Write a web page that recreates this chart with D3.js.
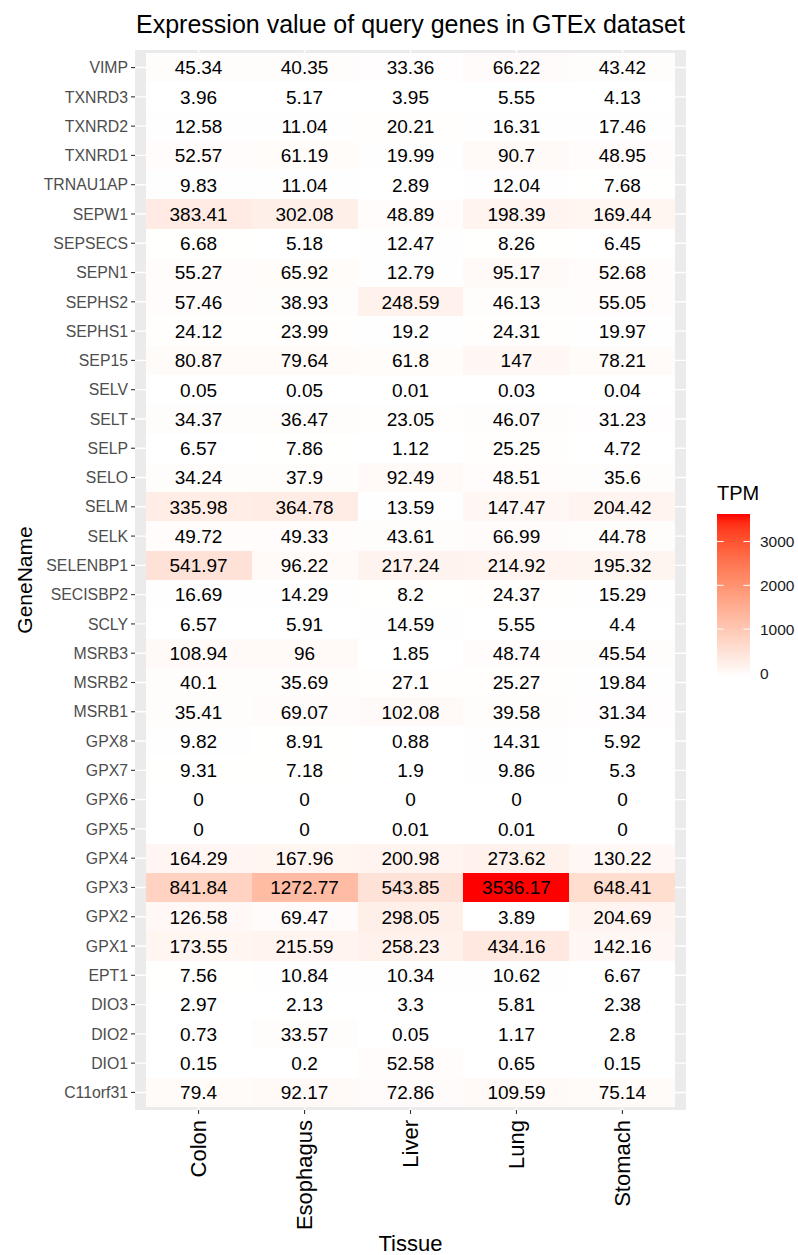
<!DOCTYPE html>
<html>
<head>
<meta charset="utf-8">
<script src="https://cdn.jsdelivr.net/npm/d3@7"></script>
<style>
  body { margin: 0; background: #fff; }
  svg text { font-family: "Liberation Sans", Arial, Helvetica, sans-serif; }
</style>
</head>
<body>
<svg width="798" height="1255"></svg>
<script>
// Genes, top row to bottom row
var genes = ["VIMP", "TXNRD3", "TXNRD2", "TXNRD1", "TRNAU1AP", "SEPW1", "SEPSECS", "SEPN1",
    "SEPHS2", "SEPHS1", "SEP15", "SELV", "SELT", "SELP", "SELO", "SELM", "SELK", "SELENBP1",
    "SECISBP2", "SCLY", "MSRB3", "MSRB2", "MSRB1", "GPX8", "GPX7", "GPX6", "GPX5", "GPX4",
    "GPX3", "GPX2", "GPX1", "EPT1", "DIO3", "DIO2", "DIO1", "C11orf31"];

var tissues = ["Colon", "Esophagus", "Liver", "Lung", "Stomach"];

// TPM per tissue, same order as genes
var colon = [45.34, 3.96, 12.58, 52.57, 9.83, 383.41, 6.68, 55.27, 57.46, 24.12, 80.87, 0.05,
    34.37, 6.57, 34.24, 335.98, 49.72, 541.97, 16.69, 6.57, 108.94, 40.1, 35.41, 9.82, 9.31,
    0, 0, 164.29, 841.84, 126.58, 173.55, 7.56, 2.97, 0.73, 0.15, 79.4];
var esophagus = [40.35, 5.17, 11.04, 61.19, 11.04, 302.08, 5.18, 65.92, 38.93, 23.99, 79.64, 0.05,
    36.47, 7.86, 37.9, 364.78, 49.33, 96.22, 14.29, 5.91, 96, 35.69, 69.07, 8.91, 7.18,
    0, 0, 167.96, 1272.77, 69.47, 215.59, 10.84, 2.13, 33.57, 0.2, 92.17];
var liver = [33.36, 3.95, 20.21, 19.99, 2.89, 48.89, 12.47, 12.79, 248.59, 19.2, 61.8, 0.01,
    23.05, 1.12, 92.49, 13.59, 43.61, 217.24, 8.2, 14.59, 1.85, 27.1, 102.08, 0.88, 1.9,
    0, 0.01, 200.98, 543.85, 298.05, 258.23, 10.34, 3.3, 0.05, 52.58, 72.86];
var lung = [66.22, 5.55, 16.31, 90.7, 12.04, 198.39, 8.26, 95.17, 46.13, 24.31, 147, 0.03,
    46.07, 25.25, 48.51, 147.47, 66.99, 214.92, 24.37, 5.55, 48.74, 25.27, 39.58, 14.31, 9.86,
    0, 0.01, 273.62, 3536.17, 3.89, 434.16, 10.62, 5.81, 1.17, 0.65, 109.59];
var stomach = [43.42, 4.13, 17.46, 48.95, 7.68, 169.44, 6.45, 52.68, 55.05, 19.97, 78.21, 0.04,
    31.23, 4.72, 35.6, 204.42, 44.78, 195.32, 15.29, 4.4, 45.54, 19.84, 31.34, 5.92, 5.3,
    0, 0, 130.22, 648.41, 204.69, 142.16, 6.67, 2.38, 2.8, 0.15, 75.14];

var legendTicks = [0, 1000, 2000, 3000];

var columns = [colon, esophagus, liver, lung, stomach];

// long format table for the tiles
var cells = [];
tissues.forEach(function (t, i) {
    genes.forEach(function (g, j) {
        cells.push({ tissue: t, gene: g, value: columns[i][j] });
    });
});

var svg = d3.select("svg");

// panel box (named so they don't clash with window.top)
var pLeft = 135, pRight = 686, pTop = 50, pBottom = 1110;

var x = d3.scaleBand().domain(tissues).range([pLeft, pRight]).paddingInner(0).paddingOuter(0.1);
var y = d3.scaleBand().domain(genes).range([pTop, pBottom]).paddingInner(0).paddingOuter(0.1);

var maxVal = d3.max(cells, function (d) { return d.value; });
var color = d3.scaleLinear()
    .domain([0, maxVal])
    .range(["white", "red"])
    .interpolate(d3.interpolateLab);

// panel background + grid
svg.append("rect")
    .attr("x", pLeft).attr("y", pTop)
    .attr("width", pRight - pLeft).attr("height", pBottom - pTop)
    .attr("fill", "#EBEBEB");

svg.append("g")
    .selectAll("line")
    .data(tissues)
    .enter().append("line")
    .attr("x1", function (d) { return x(d) + x.bandwidth() / 2; })
    .attr("x2", function (d) { return x(d) + x.bandwidth() / 2; })
    .attr("y1", pTop).attr("y2", pBottom)
    .attr("stroke", "white").attr("stroke-width", 1.4);

svg.append("g")
    .selectAll("line")
    .data(genes)
    .enter().append("line")
    .attr("y1", function (d) { return y(d) + y.bandwidth() / 2; })
    .attr("y2", function (d) { return y(d) + y.bandwidth() / 2; })
    .attr("x1", pLeft).attr("x2", pRight)
    .attr("stroke", "white").attr("stroke-width", 1.4);

// tiles
svg.append("g")
    .selectAll("rect")
    .data(cells)
    .enter().append("rect")
    .attr("x", function (d) { return x(d.tissue); })
    .attr("y", function (d) { return y(d.gene); })
    .attr("width", x.bandwidth())
    .attr("height", y.bandwidth())
    .attr("fill", function (d) { return color(d.value); })
    .attr("shape-rendering", "crispEdges");

// value labels
svg.append("g")
    .selectAll("text")
    .data(cells)
    .enter().append("text")
    .attr("x", function (d) { return x(d.tissue) + x.bandwidth() / 2; })
    .attr("y", function (d) { return y(d.gene) + y.bandwidth() / 2; })
    .attr("dy", "0.36em")
    .attr("text-anchor", "middle")
    .attr("font-size", "19px")
    .attr("fill", "black")
    .text(function (d) { return d.value; });

// y axis
var yAxis = svg.append("g")
    .attr("transform", "translate(" + pLeft + ",0)")
    .call(d3.axisLeft(y).tickSize(4).tickPadding(3));
yAxis.select(".domain").remove();
yAxis.selectAll(".tick line").attr("stroke", "#333333").attr("stroke-width", 1.1);
yAxis.selectAll(".tick text")
    .attr("fill", "#4D4D4D")
    .attr("font-size", "15.8px")
    .attr("dy", "0.36em")
    .style("font-family", "Liberation Sans, Arial, sans-serif");

// x axis
var xAxis = svg.append("g")
    .attr("transform", "translate(0," + pBottom + ")")
    .call(d3.axisBottom(x).tickSize(4).tickPadding(3));
xAxis.select(".domain").remove();
xAxis.selectAll(".tick line").attr("stroke", "#333333").attr("stroke-width", 1.1);
xAxis.selectAll(".tick text")
    .attr("fill", "black")
    .attr("font-size", "22px")
    .attr("text-anchor", "end")
    .attr("transform", "rotate(-90)")
    .attr("x", -10)
    .attr("y", 0)
    .attr("dy", "0.36em")
    .style("font-family", "Liberation Sans, Arial, sans-serif");

// titles
svg.append("text")
    .attr("x", (pLeft + pRight) / 2)
    .attr("y", 33)
    .attr("text-anchor", "middle")
    .attr("font-size", "25px")
    .text("Expression value of query genes in GTEx dataset");

svg.append("text")
    .attr("x", (pLeft + pRight) / 2)
    .attr("y", 1251)
    .attr("text-anchor", "middle")
    .attr("font-size", "22px")
    .text("Tissue");

svg.append("text")
    .attr("transform", "translate(32," + ((pTop + pBottom) / 2) + ") rotate(-90)")
    .attr("text-anchor", "middle")
    .attr("font-size", "21px")
    .text("GeneName");

// legend
var barX = 717, barW = 33, barTop = 514, barBottom = 677;
var half = (barBottom - barTop) / 40;
var ly = d3.scaleLinear().domain([0, maxVal]).range([barBottom - half, barTop + half]);

var defs = svg.append("defs");
var grad = defs.append("linearGradient")
    .attr("id", "tpmgrad")
    .attr("x1", 0).attr("y1", 1).attr("x2", 0).attr("y2", 0);
d3.range(0, 1.0001, 0.05).forEach(function (t) {
    grad.append("stop")
        .attr("offset", t)
        .attr("stop-color", color(t * maxVal));
});

svg.append("rect")
    .attr("x", barX).attr("y", barTop)
    .attr("width", barW).attr("height", barBottom - barTop)
    .attr("fill", "url(#tpmgrad)");

var lg = svg.append("g");
lg.selectAll("line.l")
    .data(legendTicks)
    .enter().append("line")
    .attr("class", "l")
    .attr("x1", barX).attr("x2", barX + 6.6)
    .attr("y1", function (d) { return ly(d); })
    .attr("y2", function (d) { return ly(d); })
    .attr("stroke", "white").attr("stroke-width", 1);
lg.selectAll("line.r")
    .data(legendTicks)
    .enter().append("line")
    .attr("class", "r")
    .attr("x1", barX + barW - 6.6).attr("x2", barX + barW)
    .attr("y1", function (d) { return ly(d); })
    .attr("y2", function (d) { return ly(d); })
    .attr("stroke", "white").attr("stroke-width", 1);
lg.selectAll("text")
    .data(legendTicks)
    .enter().append("text")
    .attr("x", 760)
    .attr("y", function (d) { return ly(d); })
    .attr("dy", "0.36em")
    .attr("font-size", "15.5px")
    .attr("fill", "#1a1a1a")
    .text(function (d) { return d; });

svg.append("text")
    .attr("x", 717)
    .attr("y", 500)
    .attr("font-size", "20px")
    .text("TPM");
</script>
</body>
</html>
